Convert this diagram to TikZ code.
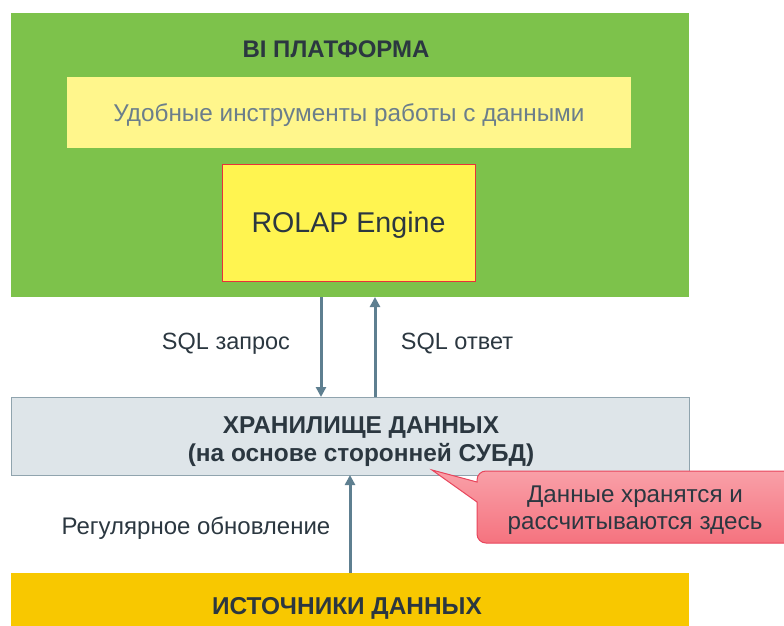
\documentclass[tikz,border=0pt]{standalone}
\usepackage{fontspec}
\setmainfont{Liberation Sans}
\usetikzlibrary{arrows.meta}
\definecolor{platgreen}{HTML}{7DC24B}
\definecolor{toolyellow}{HTML}{FFF68C}
\definecolor{engyellow}{HTML}{FFF450}
\definecolor{engred}{HTML}{E8303A}
\definecolor{darktext}{HTML}{2B3740}
\definecolor{greytext}{HTML}{6B7E8B}
\definecolor{arrowslate}{HTML}{5E7F90}
\definecolor{storefill}{HTML}{DEE5E9}
\definecolor{storeline}{HTML}{90A4AE}
\definecolor{srcyellow}{HTML}{F8C800}
\definecolor{calltop}{HTML}{F9A0A8}
\definecolor{callbot}{HTML}{F5737F}
\definecolor{callline}{HTML}{E8455C}
\tikzset{
  panel/.style={anchor=north west, inner sep=0pt, outer sep=0pt, text depth=0pt},
  bold/.style={font=\fontsize{24}{28}\selectfont\bfseries, text=darktext},
  plain/.style={font=\fontsize{23.5}{28}\selectfont, text=darktext},
  flow/.style={draw=arrowslate, line width=3pt, -{Triangle[length=10pt,width=10pt]}},
}
\begin{document}
\begin{tikzpicture}[x=1pt, y=-1pt]
\useasboundingbox (0,0) rectangle (784,626);
\begin{scope}
\clip (0,0) rectangle (784,626);
% BI platform
\node[panel, fill=platgreen, minimum width=678pt, minimum height=284pt] (bi) at (11,13) {};
\node[bold] (bititle) at (336,49) {BI ПЛАТФОРМА};
\node[panel, fill=toolyellow, minimum width=564pt, minimum height=71pt,
      font=\fontsize{24.3}{28}\selectfont, text=greytext] (tools) at (67,77)
      {Удобные инструменты работы с данными};
\node[panel, fill=engyellow, draw=engred, line width=1pt, minimum width=253pt, minimum height=117pt,
      font=\fontsize{28.6}{32}\selectfont, text=darktext] (engine) at (222,164) {ROLAP Engine};
% storage
\node[panel, fill=storefill, draw=storeline, line width=1pt, minimum width=678pt, minimum height=78pt] (store) at (11,397) {};
\node[bold, align=center, font=\fontsize{24.4}{28}\selectfont\bfseries] (storetext) at (361,442)
      {ХРАНИЛИЩЕ ДАННЫХ\\(на основе сторонней СУБД)};
% sources
\node[panel, fill=srcyellow, minimum width=678pt, minimum height=70pt] (src) at (11,573) {};
\node[bold, font=\fontsize{24.4}{28}\selectfont\bfseries] (srctext) at (347,608) {ИСТОЧНИКИ ДАННЫХ};
% connectors
\draw[flow] ([xshift=-29pt]bi.south) -- ([xshift=-29pt]store.north);
\draw[flow] ([xshift=25pt]store.north) -- ([xshift=25pt]bi.south);
\draw[flow] (src.north) -- (store.south);
\node[plain] (q) at (226,344) {SQL запрос};
\node[plain] (a) at (457,344) {SQL ответ};
\node[plain, font=\fontsize{24}{28}\selectfont] (upd) at (196,528) {Регулярное обновление};
% callout
\path[draw=callline, line width=1pt, top color=calltop, bottom color=callbot]
  (432,470) -- (477,482) [rounded corners=9pt] -- (477,471) -- (810,471) -- (810,543) -- (477,543) [sharp corners] -- (477,502) -- cycle;
\node[plain, align=center, font=\fontsize{24.2}{27}\selectfont] (note) at (635,510)
      {Данные хранятся и\\рассчитываются здесь};
\end{scope}
\end{tikzpicture}
\end{document}
